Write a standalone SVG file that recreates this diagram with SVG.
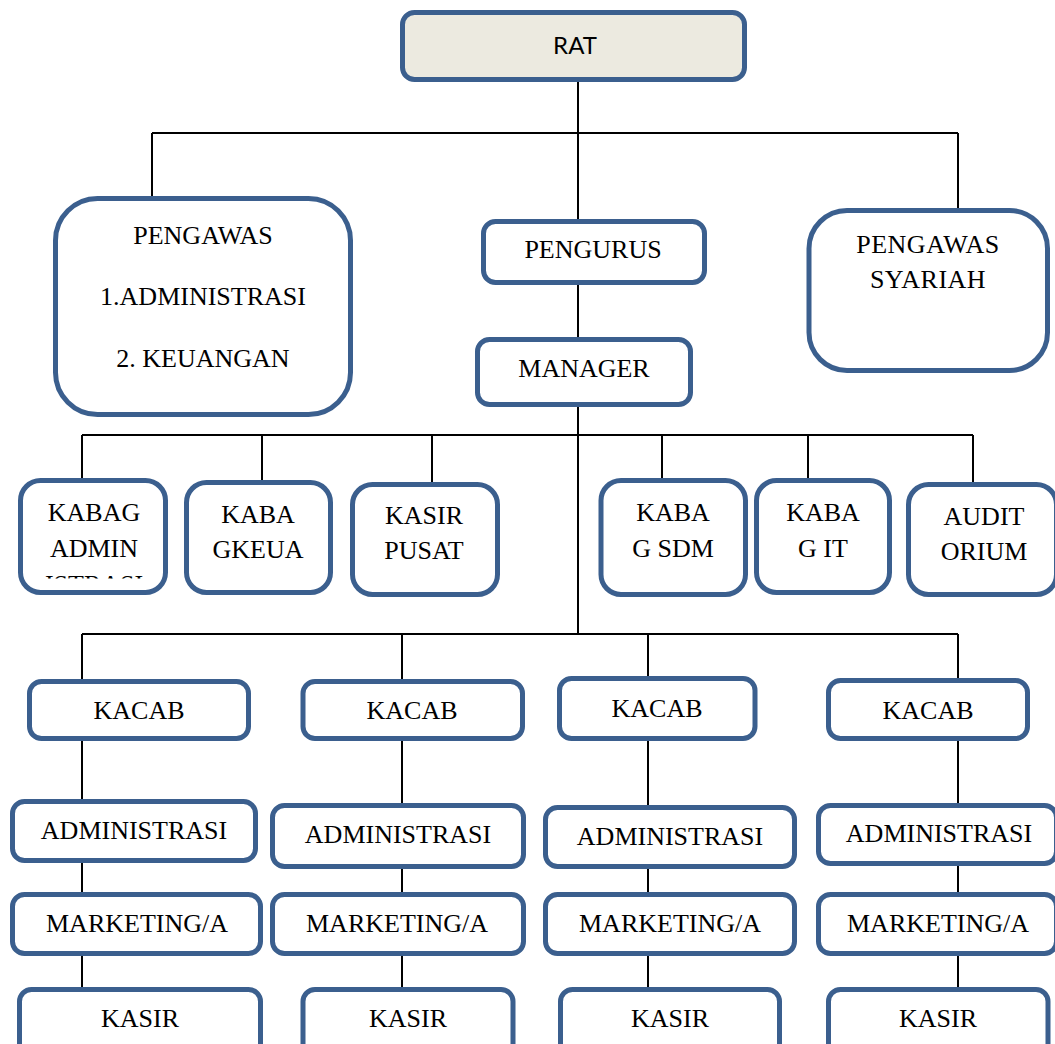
<svg xmlns="http://www.w3.org/2000/svg" width="1055" height="1044" viewBox="0 0 1055 1044">
<style>
.box{fill:#ffffff;stroke:#3b5f8e;stroke-width:5}
.root{fill:#eceae0;stroke:#3b5f8e;stroke-width:5}
.t{font-family:"Liberation Serif","Times New Roman",serif;font-size:26px;fill:#000;text-anchor:middle}
.sp{letter-spacing:0.5px}
.s{font-family:Lato,"Liberation Sans",sans-serif;font-size:24px;fill:#000;text-anchor:middle}
.c{fill:none;stroke:#000;stroke-width:2}
</style>
<defs>
<clipPath id="clipAdmin"><rect x="20" y="560" width="150" height="18.5"/></clipPath>
</defs>
<rect width="1055" height="1044" fill="#fff"/>
<g id="connectors" class="c">
<path d="M578 82V221M152 133H958M152 133V198M958 133V210"/>
<path d="M578 284V339M578 406V634"/>
<path d="M82 435H973M82 435V480M262 435V482M432 435V484M662 435V480M808 435V480M973 435V484"/>
<path d="M82 634H958M82 634V681M402 634V681M648 634V678M958 634V680"/>
<path d="M82 739V801M82 861V894M82 954V989"/>
<path d="M402 739V805M402 867V894M402 954V989"/>
<path d="M648 739V807M648 867V894M648 954V989"/>
<path d="M958 739V805M958 864V894M958 954V989"/>
</g>
<g id="rat"><rect class="root" x="402.5" y="12.5" width="342" height="67" rx="12"/><text class="s" x="575" y="54">RAT</text></g>
<g id="pengawas"><rect class="box" x="55.5" y="198.5" width="295" height="216" rx="42"/>
<text class="t" x="203" y="244">PENGAWAS</text>
<text class="t" x="203" y="305">1.ADMINISTRASI</text>
<text class="t" x="203" y="367">2. KEUANGAN</text></g>
<g id="pengurus"><rect class="box" x="483.5" y="221.5" width="221" height="61" rx="12"/><text class="t" x="593" y="258">PENGURUS</text></g>
<g id="manager"><rect class="box" x="477.5" y="339.5" width="213" height="65" rx="12"/><text class="t" x="584" y="377">MANAGER</text></g>
<g id="pengawas-syariah"><rect class="box" x="809" y="210.5" width="238.5" height="160" rx="38"/>
<text class="t sp" x="928" y="253">PENGAWAS</text><text class="t sp" x="928" y="288">SYARIAH</text></g>
<g id="kabag-admin"><rect class="box" x="20.5" y="480.5" width="145" height="112" rx="20"/>
<text class="t" x="94" y="521">KABAG</text><text class="t" x="94" y="557">ADMIN</text>
<text class="t" x="94" y="593" clip-path="url(#clipAdmin)">ISTRASI</text></g>
<g id="kabag-keuangan"><rect class="box" x="186.5" y="482.5" width="144" height="110" rx="20"/>
<text class="t" x="258" y="523">KABA</text><text class="t" x="258" y="558">GKEUA</text></g>
<g id="kasir-pusat"><rect class="box" x="352.5" y="484.5" width="145" height="110" rx="20"/>
<text class="t" x="424" y="524">KASIR</text><text class="t" x="424" y="559">PUSAT</text></g>
<g id="kabag-sdm"><rect class="box" x="601" y="480.5" width="144.5" height="114" rx="20"/>
<text class="t" x="673" y="521">KABA</text><text class="t" x="673" y="557">G SDM</text></g>
<g id="kabag-it"><rect class="box" x="756.5" y="480.5" width="133" height="112" rx="20"/>
<text class="t" x="823" y="521">KABA</text><text class="t" x="823" y="557">G IT</text></g>
<g id="auditorium"><rect class="box" x="908.5" y="484.5" width="148" height="110" rx="20"/>
<text class="t" x="984" y="525">AUDIT</text><text class="t" x="984" y="560">ORIUM</text></g>
<g id="kacab1"><rect class="box" x="29.5" y="681.5" width="219" height="57" rx="12"/><text class="t" x="139" y="719">KACAB</text></g>
<g id="admin1"><rect class="box" x="12.5" y="801.5" width="243" height="59" rx="12"/><text class="t" x="134" y="839">ADMINISTRASI</text></g>
<g id="marketing1"><rect class="box" x="12.5" y="894.5" width="248" height="59" rx="12"/><text class="t" x="137" y="932">MARKETING/A</text></g>
<g id="kasir1"><rect class="box" x="19.5" y="989.5" width="241" height="70" rx="12"/><text class="t" x="140" y="1027">KASIR</text></g>
<g id="kacab2"><rect class="box" x="303" y="681.5" width="219.5" height="57" rx="12"/><text class="t" x="412" y="719">KACAB</text></g>
<g id="admin2"><rect class="box" x="272.5" y="805.5" width="251" height="61" rx="12"/><text class="t" x="398" y="843">ADMINISTRASI</text></g>
<g id="marketing2"><rect class="box" x="272.5" y="894.5" width="251" height="59" rx="12"/><text class="t" x="397" y="932">MARKETING/A</text></g>
<g id="kasir2"><rect class="box" x="303" y="989.5" width="210" height="70" rx="12"/><text class="t" x="408" y="1027">KASIR</text></g>
<g id="kacab3"><rect class="box" x="559.5" y="678.5" width="195.5" height="60" rx="12"/><text class="t" x="657" y="717">KACAB</text></g>
<g id="admin3"><rect class="box" x="545.5" y="807.5" width="249" height="59" rx="12"/><text class="t" x="670" y="845">ADMINISTRASI</text></g>
<g id="marketing3"><rect class="box" x="545.5" y="894.5" width="249" height="59" rx="12"/><text class="t" x="670" y="932">MARKETING/A</text></g>
<g id="kasir3"><rect class="box" x="560.5" y="989.5" width="219" height="70" rx="12"/><text class="t" x="670" y="1027">KASIR</text></g>
<g id="kacab4"><rect class="box" x="828.5" y="680.5" width="199" height="58" rx="12"/><text class="t" x="928" y="719">KACAB</text></g>
<g id="admin4"><rect class="box" x="818.5" y="805.5" width="238" height="58" rx="12"/><text class="t" x="939" y="842">ADMINISTRASI</text></g>
<g id="marketing4"><rect class="box" x="818.5" y="894.5" width="238" height="59" rx="12"/><text class="t" x="938" y="932">MARKETING/A</text></g>
<g id="kasir4"><rect class="box" x="828.5" y="989.5" width="219.5" height="70" rx="12"/><text class="t" x="938" y="1027">KASIR</text></g>
</svg>
